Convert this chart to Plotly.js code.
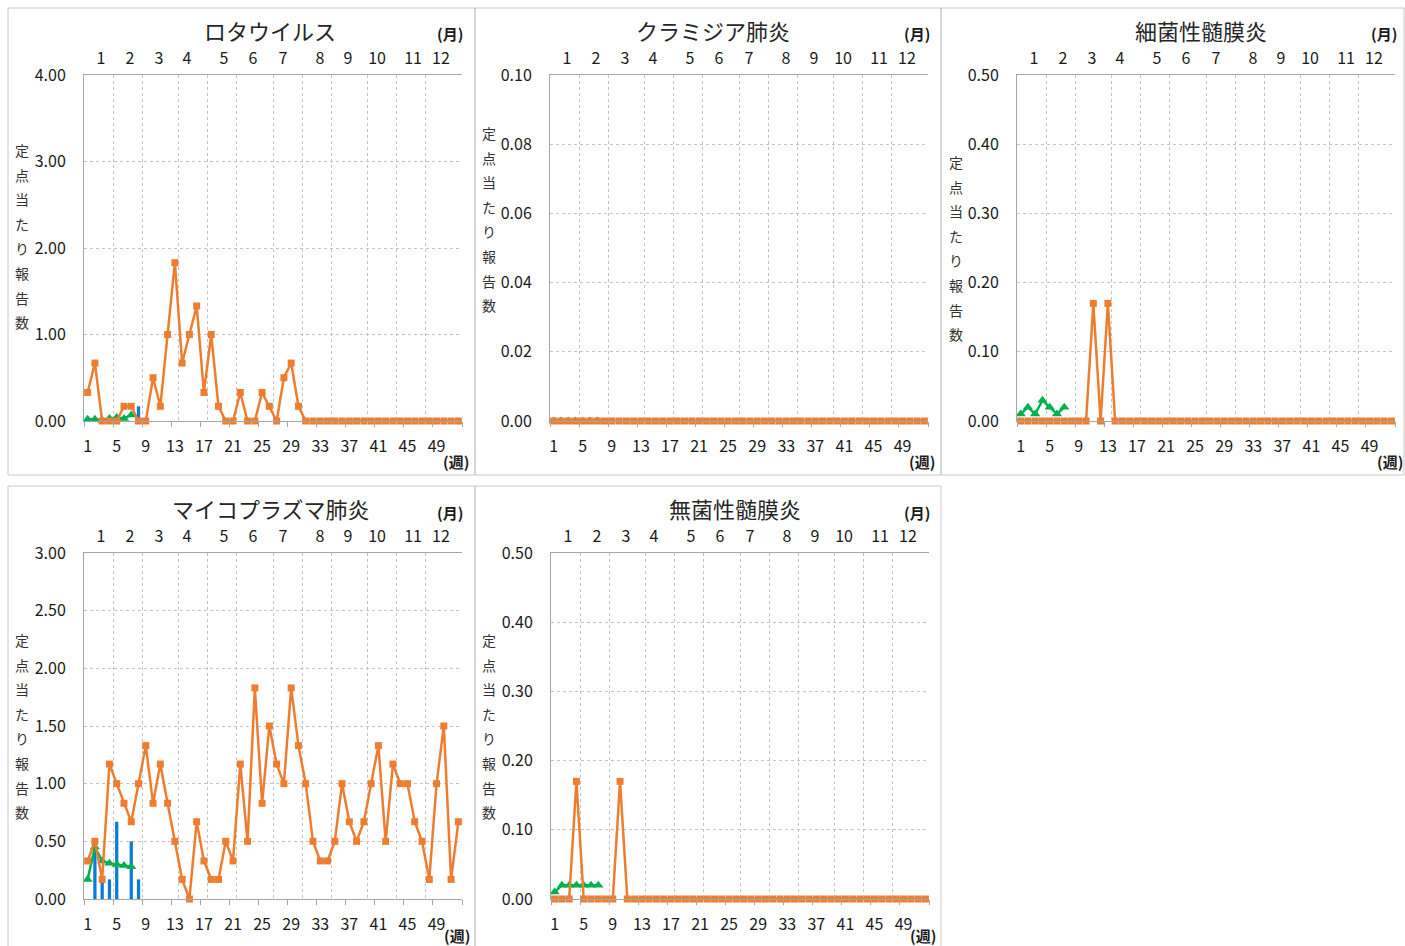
<!DOCTYPE html>
<html><head><meta charset="utf-8">
<script src="https://cdn.plot.ly/plotly-3.0.1.min.js"></script>
<style>html,body{margin:0;padding:0;background:#fff;}#chart{width:1405px;height:946px;}</style>
</head><body><div id="chart"></div>
<script>
// ---- data ----
const weeks = [1,2,3,4,5,6,7,8,9,10,11,12,13,14,15,16,17,18,19,20,21,22,23,24,25,26,27,28,29,30,31,32,33,34,35,36,37,38,39,40,41,42,43,44,45,46,47,48,49,50,51,52];
const weeksCur = [1,2,3,4,5,6,7,8];
const weeksAvg = [1,2,3,4,5,6,7];
const weekTickLabels = ['1','5','9','13','17','21','25','29','33','37','41','45','49'];
const monthLabels = ['1','2','3','4','5','6','7','8','9','10','11','12'];
const yLabel = '定点当たり報告数';

const rotaPast = [0.33,0.67,0,0,0,0.17,0.17,0,0,0.5,0.17,1.0,1.83,0.67,1.0,1.33,0.33,1.0,0.17,0,0,0.33,0,0,0.33,0.17,0,0.5,0.67,0.17,0,0,0,0,0,0,0,0,0,0,0,0,0,0,0,0,0,0,0,0,0,0];
const rotaAvg = [0.02,0.02,0.01,0.03,0.04,0.03,0.07];
const rotaCur = [0,0,0,0,0,0,0,0.17];

const chlaPast = [0,0,0,0,0,0,0,0,0,0,0,0,0,0,0,0,0,0,0,0,0,0,0,0,0,0,0,0,0,0,0,0,0,0,0,0,0,0,0,0,0,0,0,0,0,0,0,0,0,0,0,0];
const chlaAvg = [0,0,0,0,0,0,0];
const chlaCur = [0,0,0,0,0,0,0,0];

const bactPast = [0,0,0,0,0,0,0,0,0,0,0.17,0,0.17,0,0,0,0,0,0,0,0,0,0,0,0,0,0,0,0,0,0,0,0,0,0,0,0,0,0,0,0,0,0,0,0,0,0,0,0,0,0,0];
const bactAvg = [0.01,0.02,0.01,0.03,0.02,0.01,0.02];
const bactCur = [0,0,0,0,0,0,0,0];

const mycoPast = [0.33,0.5,0.17,1.17,1.0,0.83,0.67,1.0,1.33,0.83,1.17,0.83,0.5,0.17,0,0.67,0.33,0.17,0.17,0.5,0.33,1.17,0.5,1.83,0.83,1.5,1.17,1.0,1.83,1.33,1.0,0.5,0.33,0.33,0.5,1.0,0.67,0.5,0.67,1.0,1.33,0.5,1.17,1.0,1.0,0.67,0.5,0.17,1.0,1.5,0.17,0.67];
const mycoAvg = [0.17,0.45,0.33,0.31,0.30,0.29,0.28];
const mycoCur = [0,0.5,0.17,0.17,0.67,0,0.5,0.17];

const asepPast = [0,0,0,0.17,0,0,0,0,0,0.17,0,0,0,0,0,0,0,0,0,0,0,0,0,0,0,0,0,0,0,0,0,0,0,0,0,0,0,0,0,0,0,0,0,0,0,0,0,0,0,0,0,0];
const asepAvg = [0.01,0.02,0.02,0.02,0.02,0.02,0.02];
const asepCur = [0,0,0,0,0,0,0,0];

// ---- layout config ----
const W = 1405, H = 946;
const FONT = '"Noto Sans CJK JP", "Noto Sans", sans-serif';
const ORANGE = '#ED7D31', GREEN = '#00B050', BLUE = '#0A7BDB';
const AXC = '#a6a6a6', GRIDC = '#c4c4c4';
const weekTickVals = [1,5,9,13,17,21,25,29,33,37,41,45,49];
const weekBoundaries = [0.5,4.5,8.5,12.5,16.5,20.5,24.5,28.5,32.5,36.5,40.5,44.5,48.5,52.5];
const monthLabelPos = [2.84,6.83,10.82,14.67,19.76,23.75,27.88,32.97,36.82,40.81,45.76,49.61];
const monthBoundaries = [4.5,8.5,13.5,17.5,21.5,26.5,30.5,34.5,39.5,43.5,47.5];

const panels = [
 {title:'ロタウイルス', past:rotaPast, avg:rotaAvg, cur:rotaCur, ymax:4, dtick:1, px:[84,462], py:[75,421], box:[8,8,475,475], tx:270, ty:30, mx:450, my:34, wx:456, wy:461, lx:22, ly:150},
 {title:'クラミジア肺炎', past:chlaPast, avg:chlaAvg, cur:chlaCur, ymax:0.1, dtick:0.02, px:[550,928], py:[75,421], box:[475,8,941,475], tx:713, ty:30, mx:917, my:34, wx:922, wy:461, lx:489, ly:133},
 {title:'細菌性髄膜炎', past:bactPast, avg:bactAvg, cur:bactCur, ymax:0.5, dtick:0.1, px:[1017,1395], py:[75,421], box:[941,8,1404,475], tx:1201, ty:30, mx:1384, my:34, wx:1390, wy:461, lx:956, ly:162},
 {title:'マイコプラズマ肺炎', past:mycoPast, avg:mycoAvg, cur:mycoCur, ymax:3, dtick:0.5, px:[84,462], py:[553,899], box:[8,486,475,960], tx:271, ty:508, mx:450, my:512, wx:457, wy:935, lx:22, ly:640},
 {title:'無菌性髄膜炎', past:asepPast, avg:asepAvg, cur:asepCur, ymax:0.5, dtick:0.1, px:[551,929], py:[553,899], box:[475,486,941,960], tx:735, ty:508, mx:917, my:512, wx:923, wy:935, lx:489, ly:640}
];

const fx = p => p / W;
const fy = p => 1 - p / H;

const traces = [];
const layout = {
  width: W, height: H, margin: {l:0, r:0, t:0, b:0},
  paper_bgcolor: '#fff', plot_bgcolor: 'rgba(0,0,0,0)',
  showlegend: false, font: {family: FONT, size: 16, color: '#1a1a1a'},
  shapes: [], annotations: []
};

panels.forEach((p, i) => {
  const xb = 2*i + 1, xt = 2*i + 2, yi = i + 1;
  const xbName = 'x' + xb, xtName = 'x' + xt, yName = 'y' + yi;
  const xbKey = 'xaxis' + xb, xtKey = 'xaxis' + xt, yKey = 'yaxis' + yi;

  traces.push({type:'bar', x: weeksCur, y: p.cur, width: 0.45, marker:{color: BLUE}, xaxis: xbName, yaxis: yName, hoverinfo:'skip'});
  traces.push({type:'scatter', mode:'lines+markers', x: weeksAvg, y: p.avg, line:{color: GREEN, width: 2.5}, marker:{symbol:'triangle-up', size: 9, color: GREEN}, xaxis: xbName, yaxis: yName, cliponaxis:false});
  traces.push({type:'scatter', mode:'lines+markers', x: weeks, y: p.past, line:{color: ORANGE, width: 2.5}, marker:{symbol:'square', size: 7, color: ORANGE}, xaxis: xtName, yaxis: yName, cliponaxis:false});

  layout[xbKey] = {
    domain: [fx(p.px[0]), fx(p.px[1])], anchor: yName, range: [0.5, 52.5],
    tickmode: 'array', tickvals: weekTickVals, ticktext: weekTickLabels,
    ticks: 'outside', ticklen: 11, tickcolor: 'rgba(0,0,0,0)',
    showgrid: false, zeroline: false, showline: true, linecolor: AXC, linewidth: 1,
    tickfont: {size: 16, color: '#1a1a1a'},
    minor: {tickmode: 'array', tickvals: weekBoundaries, ticks: 'outside', ticklen: 5, tickcolor: AXC, tickwidth: 1, showgrid: false}
  };
  layout[xtKey] = {
    overlaying: xbName, anchor: yName, side: 'top', range: [0.5, 52.5],
    tickmode: 'array', tickvals: monthLabelPos, ticktext: monthLabels,
    ticks: 'outside', ticklen: 4, tickcolor: 'rgba(0,0,0,0)',
    showgrid: false, zeroline: false, showline: true, linecolor: AXC, linewidth: 1,
    tickfont: {size: 16, color: '#1a1a1a'},
    minor: {tickmode: 'array', tickvals: monthBoundaries, ticks: '', showgrid: true, gridcolor: GRIDC, griddash: 'dot', gridwidth: 1}
  };
  layout[yKey] = {
    domain: [fy(p.py[1]), fy(p.py[0])], anchor: xbName, range: [0, p.ymax],
    tickmode: 'linear', tick0: 0, dtick: p.dtick, tickformat: '.2f',
    ticks: 'outside', ticklen: 14, tickcolor: 'rgba(0,0,0,0)',
    showgrid: true, gridcolor: GRIDC, griddash: 'dot', gridwidth: 1,
    zeroline: false, showline: true, linecolor: AXC, linewidth: 1,
    tickfont: {size: 16, color: '#1a1a1a'}
  };

  layout.shapes.push({type:'rect', xref:'paper', yref:'paper', x0: fx(p.box[0]), x1: fx(p.box[2]), y0: fy(p.box[3]), y1: fy(p.box[1]), line:{color:'#c8c8c8', width:1}, fillcolor:'rgba(0,0,0,0)', layer:'below'});

  layout.annotations.push({text: p.title, xref:'paper', yref:'paper', x: fx(p.tx), y: fy(p.ty), xanchor:'center', yanchor:'middle', showarrow:false, font:{size: 22, color:'#262626', family: FONT}});
  layout.annotations.push({text: '<b>(月)</b>', xref:'paper', yref:'paper', x: fx(p.mx), y: fy(p.my), xanchor:'center', yanchor:'middle', showarrow:false, font:{size: 15, color:'#1a1a1a', family: FONT}});
  layout.annotations.push({text: '<b>(週)</b>', xref:'paper', yref:'paper', x: fx(p.wx), y: fy(p.wy), xanchor:'center', yanchor:'middle', showarrow:false, font:{size: 15, color:'#1a1a1a', family: FONT}});
  Array.from(yLabel).forEach((ch, k) => {
    layout.annotations.push({text: ch, xref:'paper', yref:'paper', x: fx(p.lx), y: fy(p.ly + k*24.6), xanchor:'center', yanchor:'middle', showarrow:false, font:{size: 14, color:'#333', family: FONT}});
  });
});

Plotly.newPlot('chart', traces, layout, {displayModeBar:false, staticPlot:true});
</script></body></html>
